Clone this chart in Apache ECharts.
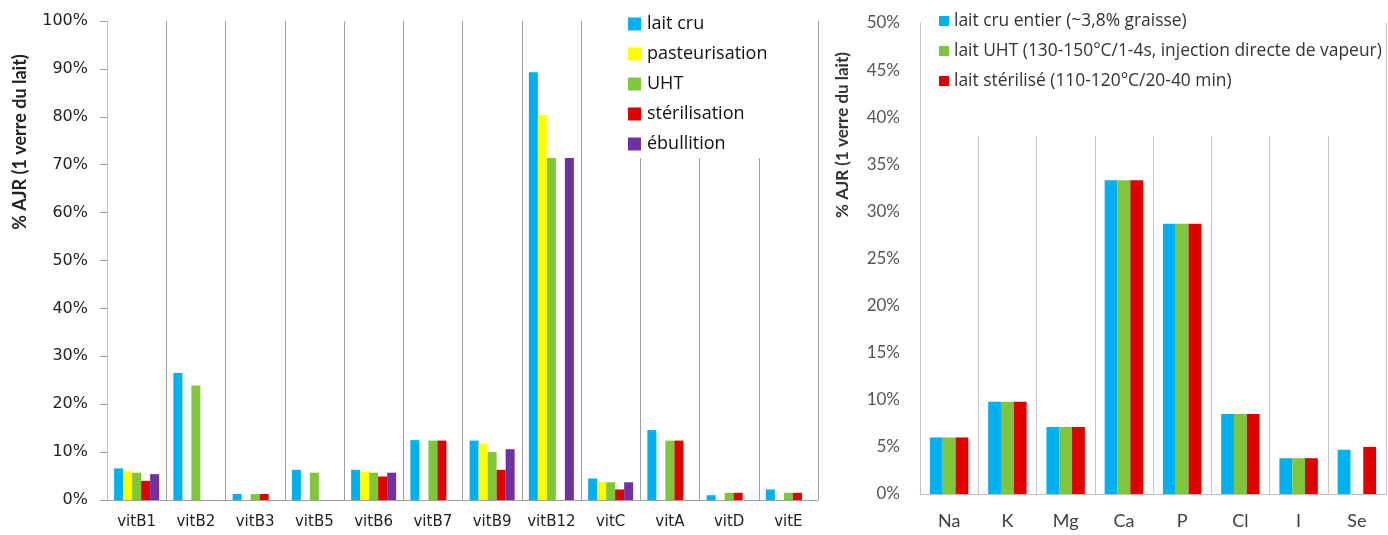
<!DOCTYPE html>
<html>
<head>
<meta charset="utf-8">
<script src="https://cdn.jsdelivr.net/npm/echarts@6/dist/echarts.min.js"></script>
<style>
  html, body { margin: 0; padding: 0; background: #fff; }
  #main { width: 1388px; height: 535px; }
</style>
</head>
<body>
<div id="main"></div>
<script>
// vitamines (graphique de gauche), en % AJR
var vitCats = ['vitB1', 'vitB2', 'vitB3', 'vitB5', 'vitB6', 'vitB7', 'vitB9', 'vitB12', 'vitC', 'vitA', 'vitD', 'vitE'];
var laitCru = [6.6, 26.5, 1.25, 6.3, 6.3, 12.5, 12.4, 89.3, 4.5, 14.6, 1.0, 2.2];
var pasteurisation = [6.0, null, null, null, 5.9, null, 11.8, 80.4, 3.8, null, null, null];
var uht = [5.7, 23.9, 1.25, 5.7, 5.7, 12.4, 10.0, 71.4, 3.7, 12.4, 1.5, 1.5];
var sterilisation = [4.0, null, 1.25, null, 4.9, 12.4, 6.3, null, 2.2, 12.4, 1.5, 1.5];
var ebullition = [5.4, null, null, null, 5.7, null, 10.6, 71.4, 3.7, null, null, null];
var vitTicks = [0, 10, 20, 30, 40, 50, 60, 70, 80, 90, 100];

// minéraux (graphique de droite)
var minCats = ['Na', 'K', 'Mg', 'Ca', 'P', 'Cl', 'I', 'Se'];
var cruEntier = [6.0, 9.8, 7.1, 33.3, 28.7, 8.5, 3.8, 4.7];
var uhtVapeur = [6.0, 9.8, 7.1, 33.3, 28.7, 8.5, 3.8, null];
var laitSterilise = [6.0, 9.8, 7.1, 33.3, 28.7, 8.5, 3.8, 5.0];
var minTicks = [0, 5, 10, 15, 20, 25, 30, 35, 40, 45, 50];

var BLUE = '#00b0f0', YELLOW = '#ffff00', GREEN = '#80c63a', RED = '#e00000', PURPLE = '#7030a0';

var myChart = echarts.init(document.getElementById('main'));

function bar(name, data, color, idx, gap) {
    return {
	name : name,
	type : 'bar',
	xAxisIndex : idx,
	yAxisIndex : idx,
	data : data,
	barGap : '0%',
	barCategoryGap : gap,
	itemStyle : { color : color },
	emphasis : { disabled : true }
    };
}

myChart.setOption({
    animation : false,
    textStyle : { fontFamily : 'Lato' },
    grid : [ {
	left : 107, top : 21, width : 711, height : 479
    }, {
	left : 920, top : 23, width : 466, height : 471
    } ],
    xAxis : [ {
	type : 'category',
	gridIndex : 0,
	data : vitCats,
	axisLine : { lineStyle : { color : '#a0a0a0', width : 1 } },
	axisTick : { interval : 0, length : 10, lineStyle : { color : '#a0a0a0' } },
	splitLine : { show : true, interval : 0, lineStyle : { color : '#a0a0a0', width : 1 } },
	axisLabel : { interval : 0, fontFamily : 'DejaVu Sans', fontSize : 15, color : '#222', margin : 15 }
    }, {
	type : 'category',
	gridIndex : 1,
	data : minCats,
	axisLine : { lineStyle : { color : '#bfbfbf', width : 1 } },
	axisTick : { interval : 0, length : 8, lineStyle : { color : '#c8c8c8' } },
	splitLine : { show : true, interval : 0, lineStyle : { color : '#c8c8c8', width : 1 } },
	axisLabel : { interval : 0, fontFamily : 'Lato', fontSize : 18, color : '#404040', margin : 18 }
    } ],
    yAxis : [ {
	type : 'value',
	gridIndex : 0,
	min : vitTicks[0],
	max : vitTicks[vitTicks.length - 1],
	interval : 10,
	axisLine : { show : true, lineStyle : { color : '#c0c0c0' } },
	axisTick : { show : true, length : 7, lineStyle : { color : '#a0a0a0' } },
	splitLine : { show : false },
	axisLabel : { formatter : '{value}%', fontFamily : 'DejaVu Sans', fontSize : 16, color : '#222', margin : 19 }
    }, {
	type : 'value',
	gridIndex : 1,
	min : minTicks[0],
	max : minTicks[minTicks.length - 1],
	interval : 5,
	axisLine : { show : true, lineStyle : { color : '#c0c0c0' } },
	axisTick : { show : false },
	splitLine : { show : false },
	axisLabel : { formatter : '{value}%', fontFamily : 'Lato', fontSize : 17, color : '#555', margin : 20 }
    } ],
    legend : [ {
	data : [ 'lait cru', 'pasteurisation', 'UHT', 'stérilisation', 'ébullition' ],
	orient : 'vertical',
	left : 598,
	top : 0,
	padding : [ 15, 18, 5, 30 ],
	backgroundColor : '#fff',
	itemWidth : 13,
	itemHeight : 13,
	itemGap : 12,
	icon : 'rect',
	selectedMode : false,
	textStyle : { fontFamily : 'Open Sans', fontSize : 18, color : '#111', lineHeight : 18, padding : [ 0, 0, 0, 1 ] }
    }, {
	data : [ 'lait cru entier (~3,8% graisse)', 'lait UHT (130-150°C/1-4s, injection directe de vapeur)', 'lait stérilisé (110-120°C/20-40 min)' ],
	orient : 'vertical',
	left : 925,
	top : 0,
	padding : [ 12, 2, 46, 14 ],
	backgroundColor : '#fff',
	itemWidth : 10,
	itemHeight : 10,
	itemGap : 12,
	icon : 'rect',
	selectedMode : false,
	textStyle : { fontFamily : 'Open Sans', fontSize : 17.4, color : '#333', lineHeight : 18 }
    } ],
    graphic : [ {
	type : 'text',
	x : 20, y : 142,
	rotation : Math.PI / 2,
	style : {
	    text : '% AJR (1 verre du lait)',
	    font : 'bold 18px Lato',
	    fill : '#222',
	    align : 'center',
	    verticalAlign : 'middle'
	}
    }, {
	type : 'text',
	x : 843, y : 135,
	rotation : Math.PI / 2,
	style : {
	    text : '% AJR (1 verre du lait)',
	    font : 'bold 17px Lato',
	    fill : '#333',
	    align : 'center',
	    verticalAlign : 'middle'
	}
    } ],
    series : [
	bar('lait cru', laitCru, BLUE, 0, '24%'),
	bar('pasteurisation', pasteurisation, YELLOW, 0, '24%'),
	bar('UHT', uht, GREEN, 0, '24%'),
	bar('stérilisation', sterilisation, RED, 0, '24%'),
	bar('ébullition', ebullition, PURPLE, 0, '24%'),
	bar('lait cru entier (~3,8% graisse)', cruEntier, BLUE, 1, '34%'),
	bar('lait UHT (130-150°C/1-4s, injection directe de vapeur)', uhtVapeur, GREEN, 1, '34%'),
	bar('lait stérilisé (110-120°C/20-40 min)', laitSterilise, RED, 1, '34%')
    ]
});
</script>
</body>
</html>
